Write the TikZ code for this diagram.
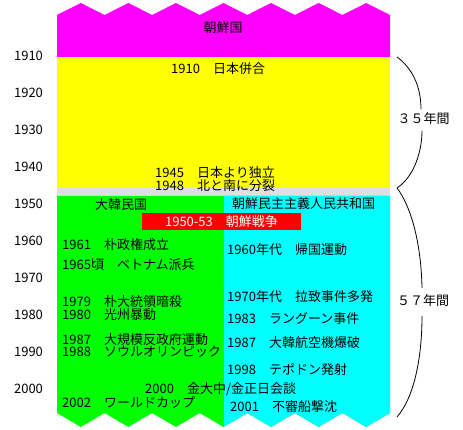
\documentclass[tikz,border=0pt]{standalone}
\usepackage{fontspec}
\setmainfont{Noto Sans CJK JP}
\usetikzlibrary{math}
\definecolor{mymagenta}{RGB}{255,0,255}
\definecolor{myyellow}{RGB}{255,255,0}
\definecolor{mygreen}{RGB}{0,255,0}
\definecolor{mycyan}{RGB}{0,255,255}
\definecolor{myred}{RGB}{255,0,0}
\definecolor{mygray}{RGB}{222,222,228}
\newcommand{\lowerband}{(\xa,196) -- (\xa,413) \foreach \k in {0,...,6}{ -- ({\xa+\tw*\k+\tw/2},427) -- ({\xa+\tw*(\k+1)},413)} -- (\xb,196) -- cycle}

\begin{document}
\begin{tikzpicture}[x=1pt, y=-1pt,
  every node/.style={font=\fontsize{13}{15}\selectfont, inner sep=0pt},
  ev/.style={anchor=west},
  paren/.style={line width=0.8pt}]
\tikzmath{
\xa=57;
\xb=390;
\tw=(\xb-\xa)/7;
}
\useasboundingbox (0,0) rectangle (463,430);

% bands
\fill[mymagenta] (\xa,57) -- (\xa,15) \foreach \k in {0,...,6}{ -- ({\xa+\tw*\k+\tw/2},3) -- ({\xa+\tw*(\k+1)},15)} -- (\xb,57) -- cycle;
\fill[myyellow] (\xa,57) rectangle (\xb,187);
\fill[mygray] (\xa,187) rectangle (\xb,196);
\fill[mygreen] \lowerband;
\begin{scope}
\clip (224,190) rectangle (\xb,430);
\fill[mycyan] \lowerband;
\end{scope}

% years
\foreach \yr [count=\i from 0] in {1910,1920,...,2000}
  \node (t\yr) at (28.5,56+37*\i) {\yr};

\node (joseon) at (223,28) {朝鮮国};
\node[ev] (j1910) at (171,69) {1910　日本併合};
\node[ev] (j1945) at (155,173) {1945　日本より独立};
\node[ev] (j1948) at (155,186) {1948　北と南に分裂};

\node[ev] (south) at (95,205) {大韓民国};
\node[ev] (north) at (232,204) {朝鮮民主主義人民共和国};
\node[fill=myred, text=white, minimum width=159, minimum height=17] (war) at (221.5,221.5) {1950-53　朝鮮戦争};

\node[ev] (s1961) at (62,245) {1961　朴政権成立};
\node[ev] (s1965) at (62,265) {1965頃　ベトナム派兵};
\node[ev] (s1979) at (62,302) {1979　朴大統領暗殺};
\node[ev] (s1980) at (62,315) {1980　光州暴動};
\node[ev] (s1987) at (62,340) {1987　大規模反政府運動};
\node[ev] (s1988) at (62,352) {1988　ソウルオリンピック};
\node[ev] (s2000) at (145,389) {2000　金大中/金正日会談};
\node[ev] (s2002) at (62,403) {2002　ワールドカップ};

\node[ev] (n1960) at (227,250) {1960年代　帰国運動};
\node[ev] (n1970) at (227,297) {1970年代　拉致事件多発};
\node[ev] (n1983) at (227,319) {1983　ラングーン事件};
\node[ev] (n1987) at (227,343) {1987　大韓航空機爆破};
\node[ev] (n1998) at (227,370) {1998　テポドン発射};
\node[ev] (n2001) at (230,407) {2001　不審船撃沈};

% braces
\coordinate (b1) at (397,57);
\coordinate (b2) at (397,188);
\coordinate (b3) at (397,417);
\node (p35) at (423.5,119) {３５年間};
\node (p57) at (423,301) {５７年間};
\draw[paren] (b1) .. controls (412,68) and (421,86) .. ([shift={(-2.5,-3.5)}]p35.north);
\draw[paren] ([shift={(-1.5,5.5)}]p35.south) .. controls (422,150) and (415,176) .. (b2);
\draw[paren] (b2) .. controls (410,205) and (421,240) .. ([shift={(-1,-7)}]p57.north);
\draw[paren] ([shift={(-1,9)}]p57.south) .. controls (422,352) and (416,395) .. (b3);
\end{tikzpicture}
\end{document}
